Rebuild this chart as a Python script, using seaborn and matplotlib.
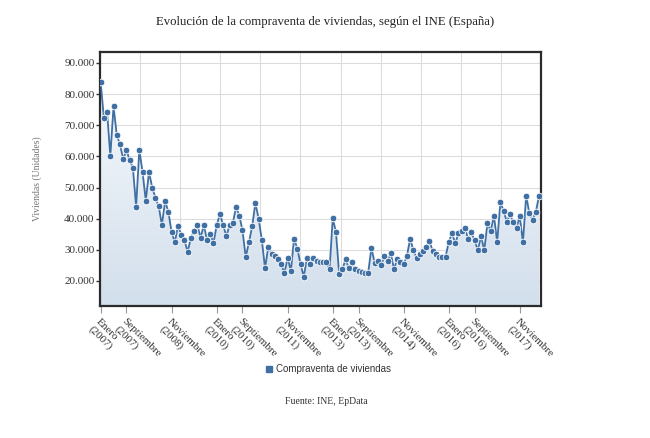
import numpy as np
import pandas as pd
import matplotlib
matplotlib.use("Agg")
import matplotlib.pyplot as plt
import seaborn as sns
from matplotlib.lines import Line2D
from matplotlib.ticker import FuncFormatter
from matplotlib.colors import LinearSegmentedColormap

# ---- data ----
months = pd.date_range("2007-01-01", periods=137, freq="MS")
values = [
    83900, 72400, 74300, 60100, 76100, 66800, 63900, 59100, 62000, 58800,
    56400, 43900, 62100, 55000, 45800, 55000, 50000, 46700, 44000, 38000,
    45700, 42200, 35800, 32400, 37700, 34900, 33000, 29400, 33900, 36000,
    37900, 33900, 37900, 33200, 35100, 32200, 37900, 41500, 37900, 34400,
    37900, 38500, 43800, 41000, 36300, 27600, 32400, 37500, 45100, 40000,
    33200, 24100, 31000, 28800, 28000, 27100, 25500, 22500, 27500, 23200,
    33600, 30400, 25500, 21400, 27300, 25500, 27300, 26500, 26200, 26000,
    26200, 23700, 40100, 35700, 22100, 23900, 26900, 24100, 26000, 23900,
    23300, 22900, 22700, 22700, 30700, 25700, 26500, 25100, 27900, 26300,
    28900, 23800, 27100, 26000, 25400, 28000, 33500, 30000, 27400, 28500,
    29600, 31000, 32800, 29600, 28500, 27700, 27700, 27800, 32600, 35300,
    32100, 35300, 36000, 37100, 33400, 35600, 33000, 29900, 34400, 29900,
    38600, 36000, 41000, 32500, 45300, 42500, 39000, 41400, 38800, 37000,
    40800, 32400, 47400, 41700, 39700, 42200, 47400,
]
tick_idx = [0, 8, 22, 36, 44, 58, 72, 80, 94, 108, 116, 130]
tick_labels = [
    "Enero\n(2007)", "Septiembre\n(2007)", "Noviembre\n(2008)",
    "Enero\n(2010)", "Septiembre\n(2010)", "Noviembre\n(2011)",
    "Enero\n(2013)", "Septiembre\n(2013)", "Noviembre\n(2014)",
    "Enero\n(2016)", "Septiembre\n(2016)", "Noviembre\n(2017)",
]
y_ticks = [20000, 30000, 40000, 50000, 60000, 70000, 80000, 90000]
series_name = "Compraventa de viviendas"
title = "Evolución de la compraventa de viviendas, según el INE (España)"
y_label = "Viviendas (Unidades)"
source = "Fuente: INE, EpData"

df = pd.DataFrame({"idx": np.arange(len(values)), "mes": months, "valor": values})

# ---- style ----
sns.set_theme(style="white")
plt.rcParams["font.family"] = ["Liberation Serif", "DejaVu Serif"]

color = "#3f6fa3"
fig = plt.figure(figsize=(6.5, 4.38), dpi=100)
W, H = 650, 438
left, right, top, bottom = 100, 541, 52, 306
ax = fig.add_axes([left / W, 1 - bottom / H, (right - left) / W, (bottom - top) / H])

xmin, xmax = -0.2, 136.6
ymin, ymax = 11960, 93530
ax.set_xlim(xmin, xmax)
ax.set_ylim(ymin, ymax)

# gradient fill under line
cmap = LinearSegmentedColormap.from_list("g", ["#d2dfec", "#fbfcfe"])
grad = np.linspace(0, 1, 256).reshape(-1, 1)
im = ax.imshow(grad, extent=[xmin, xmax, ymin, ymax], origin="lower",
               aspect="auto", cmap=cmap, zorder=1)
poly = ax.fill_between(df["idx"], df["valor"], ymin, color="none", zorder=1)
im.set_clip_path(poly.get_paths()[0], transform=ax.transData)

# gridlines
for yv in y_ticks:
    ax.axhline(yv, color="#dcdcdc", lw=0.8, zorder=0.5)
for xv in np.linspace(xmin, xmax, 12)[1:-1]:
    ax.axvline(xv, color="#dcdcdc", lw=0.8, zorder=0.5)

sns.lineplot(data=df, x="idx", y="valor", ax=ax, color=color, lw=1.3,
             marker="o", markersize=4.8, markeredgecolor="white",
             markeredgewidth=0.6, zorder=3, legend=False)

# axes styling
for s in ax.spines.values():
    s.set_color("#2b2b2b")
    s.set_linewidth(1.6)
ax.set_xlabel("")
ax.set_ylabel(y_label, fontsize=7, color="#777777", labelpad=16)
ax.set_yticks(y_ticks)
ax.yaxis.set_major_formatter(FuncFormatter(lambda v, p: f"{int(v):,}".replace(",", ".")))
ax.tick_params(axis="y", labelsize=8, colors="#333333", length=3, width=1,
               direction="out", left=True, pad=1)
ax.set_xticks(tick_idx)
ax.set_xticklabels(tick_labels, rotation=-45, ha="left", va="top",
                   rotation_mode="anchor", fontsize=8, color="#333333")
ax.tick_params(axis="x", length=5, width=0.8, color="#999999",
               direction="out", bottom=True, pad=3)

fig.text(0.5, 1 - 22 / H, title, ha="center", va="center",
         fontsize=9.2, color="#222222")
fig.text(326 / W, 1 - 402 / H, source, ha="center", va="center",
         fontsize=7, color="#333333")

handle = Line2D([], [], marker="s", color=color, lw=0, markersize=5)
leg = fig.legend([handle], [series_name], loc="center",
                 bbox_to_anchor=(328 / W, 1 - 369 / H), frameon=False,
                 handletextpad=0.3, handlelength=0.8,
                 prop={"family": "Liberation Sans", "size": 7})
for t in leg.get_texts():
    t.set_color("#333333")

fig.savefig("out.png", dpi=100)
